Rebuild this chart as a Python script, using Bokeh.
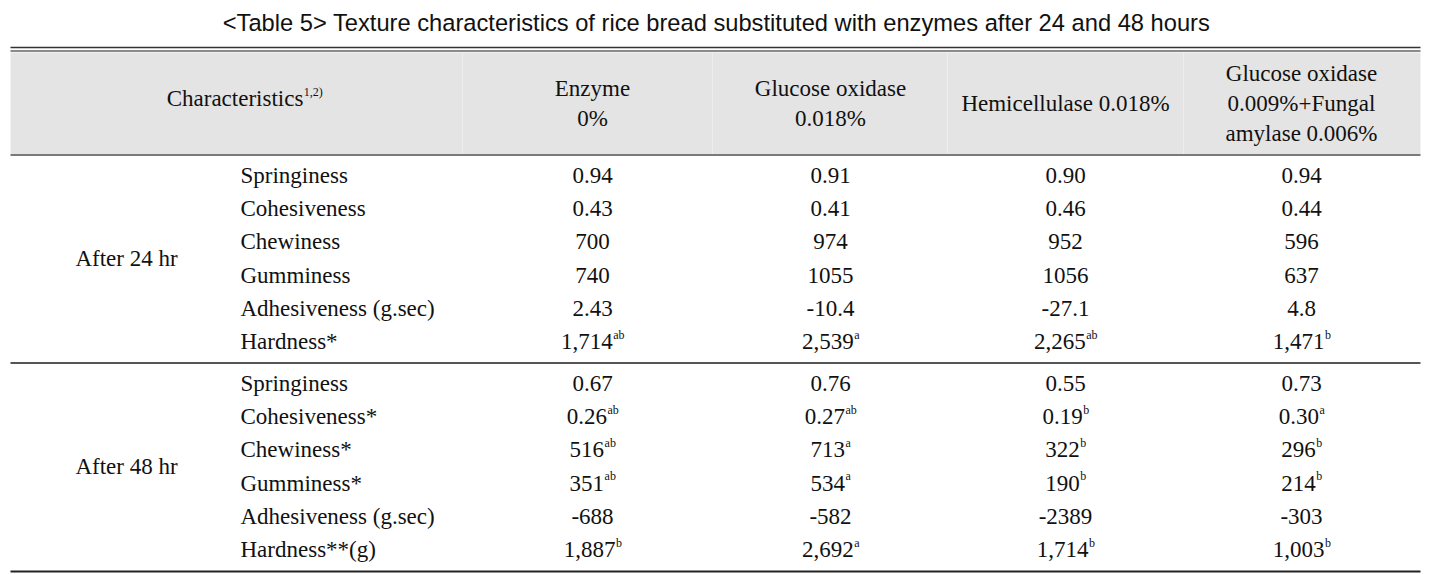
from bokeh.plotting import figure
from bokeh.models import ColumnDataSource, Range1d
from bokeh.core.properties import value
from bokeh.embed import file_html
from bokeh.resources import INLINE

# ---------------- data ----------------
title_text = "<Table 5> Texture characteristics of rice bread substituted with enzymes after 24 and 48 hours"
header_first = "Characteristics"
header_first_sup = "1,2)"
treatments = [
    ["Enzyme", "0%"],
    ["Glucose oxidase", "0.018%"],
    ["Hemicellulase 0.018%"],
    ["Glucose oxidase", "0.009%+Fungal", "amylase 0.006%"],
]
groups = ["After 24 hr", "After 48 hr"]

chars_24 = ["Springiness", "Cohesiveness", "Chewiness", "Gumminess", "Adhesiveness (g.sec)", "Hardness*"]
chars_48 = ["Springiness", "Cohesiveness*", "Chewiness*", "Gumminess*", "Adhesiveness (g.sec)", "Hardness**(g)"]

enzyme0_24 = ["0.94", "0.43", "700", "740", "2.43", "1,714"]
enzyme0_24_sup = ["", "", "", "", "", "ab"]
gox_24 = ["0.91", "0.41", "974", "1055", "-10.4", "2,539"]
gox_24_sup = ["", "", "", "", "", "a"]
hemi_24 = ["0.90", "0.46", "952", "1056", "-27.1", "2,265"]
hemi_24_sup = ["", "", "", "", "", "ab"]
mix_24 = ["0.94", "0.44", "596", "637", "4.8", "1,471"]
mix_24_sup = ["", "", "", "", "", "b"]

enzyme0_48 = ["0.67", "0.26", "516", "351", "-688", "1,887"]
enzyme0_48_sup = ["", "ab", "ab", "ab", "", "b"]
gox_48 = ["0.76", "0.27", "713", "534", "-582", "2,692"]
gox_48_sup = ["", "ab", "a", "a", "", "a"]
hemi_48 = ["0.55", "0.19", "322", "190", "-2389", "1,714"]
hemi_48_sup = ["", "b", "b", "b", "", "b"]
mix_48 = ["0.73", "0.30", "296", "214", "-303", "1,003"]
mix_48_sup = ["", "a", "b", "b", "", "b"]

# ---------------- layout / style ----------------
SERIF = value("Liberation Serif")
SANS = value("Liberation Sans")
FS = 23      # body font px
SFS = 12     # superscript font px
TXT = "#111111"

# approximate Times (Liberation Serif) advance widths in em
_W = {c: 0.5 for c in "0123456789"}
_W.update({",": 0.25, ".": 0.25, "-": 0.333, "a": 0.444, "b": 0.5, ")": 0.333,
           "C": 0.667, "h": 0.5, "r": 0.333, "c": 0.444, "t": 0.278, "e": 0.444,
           "i": 0.278, "s": 0.389})


def tw(s, size):
    return sum(_W.get(ch, 0.5) for ch in s) * size


LEFT, RIGHT = 10, 1420
col_centers = [592, 830, 1065, 1301]
col_bounds = [462, 712, 947, 1183]
row_step = 33.2
y24 = [175 + row_step * i for i in range(6)]
y48 = [383 + row_step * i for i in range(6)]

p = figure(width=1439, height=574, x_range=Range1d(0, 1439), y_range=Range1d(574, 0),
           output_backend="svg", toolbar_location=None, min_border=0)
p.axis.visible = False
p.grid.visible = False
p.outline_line_color = None
p.background_fill_color = "white"
p.border_fill_color = "white"

# title
p.text(x=[716], y=[22], text=[title_text], text_font=SANS, text_font_size="23.7px",
       text_align="center", text_baseline="middle", text_color=TXT)

# header background and rules
p.quad(left=[LEFT], right=[RIGHT], top=[52], bottom=[153.5], fill_color="#e4e4e4", line_color=None)
p.segment(x0=col_bounds, x1=col_bounds, y0=[52] * 4, y1=[153.5] * 4, line_color="#eeeeee", line_width=1)
p.segment(x0=[LEFT], x1=[RIGHT], y0=[47], y1=[47], line_color="#333333", line_width=1.5)
p.segment(x0=[LEFT], x1=[RIGHT], y0=[50.5], y1=[50.5], line_color="#8a8a8a", line_width=2)
p.segment(x0=[LEFT], x1=[RIGHT], y0=[154.5], y1=[154.5], line_color="#7a7a7a", line_width=2)
p.segment(x0=[LEFT], x1=[RIGHT], y0=[362.5], y1=[362.5], line_color="#555555", line_width=2)
p.segment(x0=[LEFT], x1=[RIGHT], y0=[571], y1=[571], line_color="#222222", line_width=2)

# header texts
wm = tw(header_first, FS)
ws = tw(header_first_sup, SFS)
hx = 244 + (wm - ws) / 2
p.text(x=[hx], y=[98], text=[header_first], text_font=SERIF, text_font_size=f"{FS}px",
       text_align="right", text_baseline="middle", text_color=TXT)
p.text(x=[hx + 0.5], y=[91], text=[header_first_sup], text_font=SERIF, text_font_size=f"{SFS}px",
       text_align="left", text_baseline="middle", text_color=TXT)

hx_list, hy_list, ht_list = [], [], []
for cx, lines in zip(col_centers, treatments):
    n = len(lines)
    for k, line in enumerate(lines):
        hx_list.append(cx)
        hy_list.append(103 + (k - (n - 1) / 2) * 30)
        ht_list.append(line)
p.text(x=hx_list, y=hy_list, text=ht_list, text_font=SERIF, text_font_size=f"{FS}px",
       text_align="center", text_baseline="middle", text_color=TXT)

# group labels
p.text(x=[126, 126], y=[(y24[0] + y24[-1]) / 2, (y48[0] + y48[-1]) / 2], text=groups,
       text_font=SERIF, text_font_size=f"{FS}px", text_align="center", text_baseline="middle",
       text_color=TXT)

# characteristic names
p.text(x=[240] * 12, y=y24 + y48, text=chars_24 + chars_48, text_font=SERIF,
       text_font_size=f"{FS}px", text_align="left", text_baseline="middle", text_color=TXT)

# values
cols_24 = [(enzyme0_24, enzyme0_24_sup), (gox_24, gox_24_sup), (hemi_24, hemi_24_sup), (mix_24, mix_24_sup)]
cols_48 = [(enzyme0_48, enzyme0_48_sup), (gox_48, gox_48_sup), (hemi_48, hemi_48_sup), (mix_48, mix_48_sup)]

vx, vy, vt, sx, sy, st = [], [], [], [], [], []
for ys, cols in ((y24, cols_24), (y48, cols_48)):
    for cx, (vals, sups) in zip(col_centers, cols):
        for yy, v, s in zip(ys, vals, sups):
            anchor = cx + (tw(v, FS) - tw(s, SFS)) / 2
            vx.append(anchor)
            vy.append(yy)
            vt.append(v)
            if s:
                sx.append(anchor + 0.5)
                sy.append(yy - 7)
                st.append(s)

src_v = ColumnDataSource(dict(x=vx, y=vy, text=vt))
src_s = ColumnDataSource(dict(x=sx, y=sy, text=st))
p.text(x="x", y="y", text="text", source=src_v, text_font=SERIF, text_font_size=f"{FS}px",
       text_align="right", text_baseline="middle", text_color=TXT)
p.text(x="x", y="y", text="text", source=src_s, text_font=SERIF, text_font_size=f"{SFS}px",
       text_align="left", text_baseline="middle", text_color=TXT)

open("out.html", "w").write(file_html(p, INLINE))
